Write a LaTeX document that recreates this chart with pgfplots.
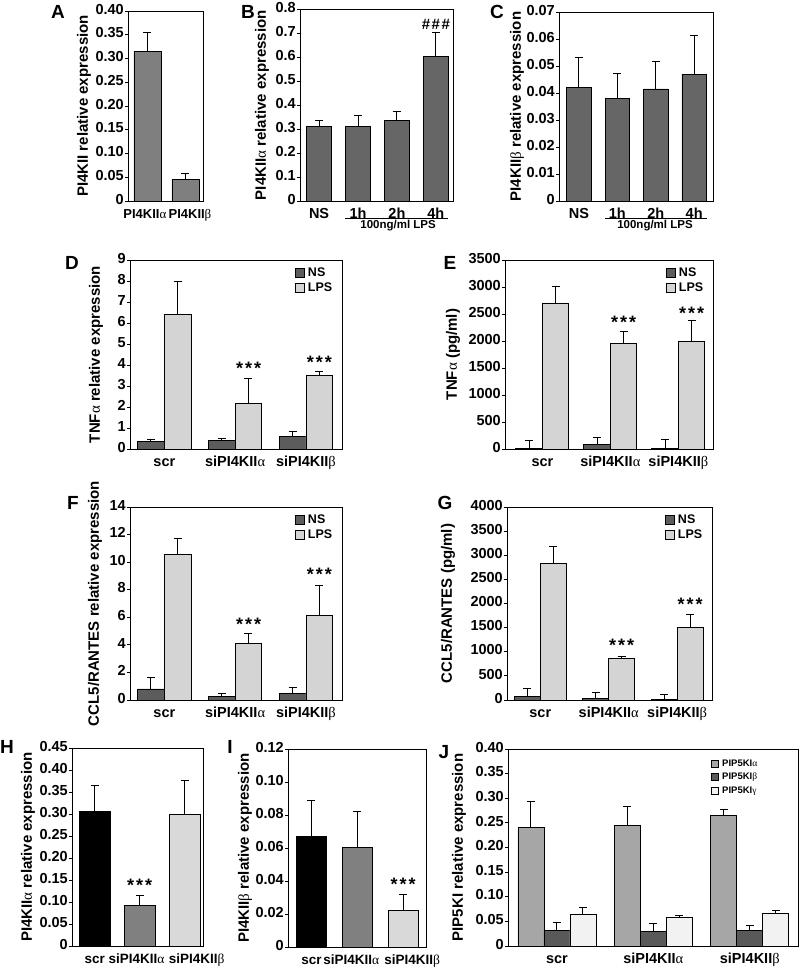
\documentclass[border=0pt]{standalone}
\usepackage{fontspec}
\setmainfont{Liberation Sans}
\newfontfamily\grk{Liberation Serif}
\usepackage{pgfplots}
\pgfplotsset{compat=1.18}
\newcommand\al{{\grk\mdseries α}}
\newcommand\be{{\grk\mdseries β}}
\newcommand\ga{{\grk\mdseries γ}}
\newcommand\lbw{4.5bp}
\definecolor{barA}{HTML}{7F7F7F}
\definecolor{barB}{HTML}{666666}
\definecolor{ns}{HTML}{5C5C5C}
\definecolor{lps}{HTML}{D4D4D4}
\definecolor{hsi}{HTML}{808080}
\definecolor{hsb}{HTML}{D9D9D9}
\definecolor{ja}{HTML}{A6A6A6}
\definecolor{jb}{HTML}{595959}
\definecolor{jg}{HTML}{F2F2F2}
\pgfplotsset{
 panel/.style={
  scale only axis, clip=false, anchor=south west,
  axis line style={black, line width=1bp},
  tick align=outside, ytick pos=left, xtick pos=bottom,
  major tick length=3bp,
  ytick style={black, line width=1bp},
  xtick style={draw=none},
  scaled y ticks=false,
  typeset ticklabels with strut,
  /pgf/number format/assume math mode=true,
  ticklabel style={font=\fontsize{14.5bp}{16bp}\selectfont\bfseries},
  yticklabel style={inner sep=1bp},
  label style={font=\fontsize{15bp}{17bp}\selectfont\bfseries},
  ymin=0, ybar,
 },
 eb/.style={draw=black, line width=0.8bp,
   legend image code/.code={\draw[##1, line width=0.8bp] (0bp,-\lbw) rectangle (2*\lbw,\lbw);},
   error bars/.cd, y dir=plus, y explicit,
   error bar style={black, line width=1bp}, error mark options={rotate=90, black, line width=1bp, mark size=4bp}},
 leg/.style={legend style={draw=none, fill=none, at={(1,1)}, anchor=north east, xshift=-8bp, yshift=-6bp,
   font=\fontsize{12.5bp}{13bp}\selectfont\bfseries, row sep=1.5bp, inner sep=0pt, nodes={inner sep=1.5bp},
   /tikz/every odd column/.style={column sep=2bp}},
   legend cell align=left},
}
\newcommand\stars{\fontsize{18bp}{18bp}\selectfont\bfseries *\kern2bp*\kern2bp*}
\tikzset{let/.style={font=\fontsize{19bp}{19bp}\selectfont\bfseries}}
\begin{document}
\begin{tikzpicture}
\useasboundingbox (0,0) rectangle (800bp,-967bp);
% ---------- A
\begin{axis}[panel, at={(128bp,-201bp)}, width=75bp, height=190bp,
  xmin=-0.51, xmax=1.46, ymax=0.40, bar width=27bp,
  ytick={0,0.05,0.10,0.15,0.20,0.25,0.30,0.35,0.40},
  yticklabels={0,0.05,0.10,0.15,0.20,0.25,0.30,0.35,0.40},
  xtick={0,1}, xticklabels={PI4KII\al\hspace*{5bp},\hspace*{9bp}PI4KII\be},
  xticklabel style={font=\fontsize{13bp}{15bp}\selectfont\bfseries},
  ylabel={PI4KII relative expression},
  ylabel style={at={(axis description cs:-0.587,0.5)}, anchor=center}]
\addplot[fill=barA, eb] coordinates {(0,0.315) +- (0,0.040) (1,0.046) +- (0,0.011)};
\end{axis}
\node[let] at (58bp,-12bp) {A};
% ---------- B
\begin{axis}[panel, at={(300bp,-201bp)}, width=153bp, height=191.5bp,
  xmin=-0.49, xmax=3.44, ymax=0.8, bar width=25bp,
  ytick={0,0.1,0.2,0.3,0.4,0.5,0.6,0.7,0.8},
  yticklabels={0,0.1,0.2,0.3,0.4,0.5,0.6,0.7,0.8},
  xtick={0,1,2,3}, xticklabels={NS,1h,2h,4h},
  ylabel={PI4KII\al\ relative expression},
  ylabel style={at={(axis description cs:-0.248,0.5)}, anchor=center}]
\addplot[fill=barB, eb] coordinates {(0,0.312) +- (0,0.023) (1,0.312) +- (0,0.045) (2,0.336) +- (0,0.036) (3,0.603) +- (0,0.103)};
\draw[line width=1bp] ([yshift=-17.5bp]axis cs:0.67,0) -- ([yshift=-17.5bp]axis cs:3.31,0);
\node[font=\fontsize{11.5bp}{12bp}\selectfont\bfseries] at ([yshift=-25bp]axis cs:2.03,0) {100ng/ml LPS};
\node[font=\fontsize{15bp}{15bp}\selectfont\bfseries] at (axis cs:3,0.738) {\#\kern1.5bp\#\kern1.5bp\#};
\end{axis}
\node[let] at (248bp,-12bp) {B};
% ---------- C
\begin{axis}[panel, at={(559bp,-201bp)}, width=154bp, height=189bp,
  xmin=-0.52, xmax=3.49, ymax=0.07, bar width=24.5bp,
  ytick={0,0.01,0.02,0.03,0.04,0.05,0.06,0.07},
  yticklabels={0,0.01,0.02,0.03,0.04,0.05,0.06,0.07},
  xtick={0,1,2,3}, xticklabels={NS,1h,2h,4h},
  ylabel={PI4KII\be\ relative expression},
  ylabel style={at={(axis description cs:-0.273,0.5)}, anchor=center}]
\addplot[fill=barB, eb] coordinates {(0,0.0420) +- (0,0.0113) (1,0.0381) +- (0,0.0090) (2,0.0415) +- (0,0.0100) (3,0.0469) +- (0,0.0145)};
\draw[line width=1bp] ([yshift=-17.5bp]axis cs:0.68,0) -- ([yshift=-17.5bp]axis cs:3.34,0);
\node[font=\fontsize{11.5bp}{12bp}\selectfont\bfseries] at ([yshift=-25bp]axis cs:1.98,0) {100ng/ml LPS};
\end{axis}
\node[let] at (497bp,-12bp) {C};
% ---------- D
\begin{axis}[panel, leg, at={(130bp,-449bp)}, width=212bp, height=189bp,
  xmin=-0.485, xmax=2.51, ymax=9, bar width=26.7bp, ybar=0pt,
  ytick={0,1,2,3,4,5,6,7,8,9},
  yticklabels={0,1,2,3,4,5,6,7,8,9},
  xtick={0,1,2}, xticklabels={scr,siPI4KII\al,siPI4KII\be},
  ylabel={TNF\al\ relative expression},
  ylabel style={at={(axis description cs:-0.160,0.5)}, anchor=center}]
\addplot[fill=ns, eb] coordinates {(0,0.36) +- (0,0.07) (1,0.40) +- (0,0.12) (2,0.59) +- (0,0.26)};
\addplot[fill=lps, eb] coordinates {(0,6.40) +- (0,1.58) (1,2.19) +- (0,1.17) (2,3.49) +- (0,0.19)};
\legend{NS,LPS}
\node at (axis cs:1.19,3.86) {\stars};
\node at (axis cs:2.19,4.14) {\stars};
\end{axis}
\node[let] at (72bp,-263bp) {D};
% ---------- E
\begin{axis}[panel, leg, at={(505bp,-449bp)}, width=208bp, height=189bp,
  xmin=-0.55, xmax=2.51, ymax=3500, bar width=26.5bp, ybar=0pt,
  ytick={0,500,1000,1500,2000,2500,3000,3500},
  yticklabels={0,500,1000,1500,2000,2500,3000,3500},
  xtick={0,1,2}, xticklabels={scr,siPI4KII\al,siPI4KII\be},
  ylabel={TNF\al\ (pg/ml)},
  ylabel style={at={(axis description cs:-0.25,0.5)}, anchor=center}]
\addplot[fill=ns, eb] coordinates {(0,10) +- (0,145) (1,90) +- (0,130) (2,10) +- (0,170)};
\addplot[fill=lps, eb] coordinates {(0,2705) +- (0,300) (1,1952) +- (0,222) (2,1993) +- (0,383)};
\legend{NS,LPS}
\node at (axis cs:1.195,2339) {\stars};
\node at (axis cs:2.195,2519) {\stars};
\end{axis}
\node[let] at (450bp,-263bp) {E};
% ---------- F
\begin{axis}[panel, leg, at={(130bp,-700bp)}, width=212bp, height=193bp,
  xmin=-0.485, xmax=2.51, ymax=14, bar width=26.7bp, ybar=0pt,
  ytick={0,2,4,6,8,10,12,14},
  yticklabels={0,2,4,6,8,10,12,14},
  xtick={0,1,2}, xticklabels={scr,siPI4KII\al,siPI4KII\be},
  ylabel={CCL5/RANTES relative expression},
  ylabel style={at={(axis description cs:-0.165,0.5)}, anchor=center}]
\addplot[fill=ns, eb] coordinates {(0,0.80) +- (0,0.80) (1,0.24) +- (0,0.26) (2,0.46) +- (0,0.44)};
\addplot[fill=lps, eb] coordinates {(0,10.55) +- (0,1.15) (1,4.13) +- (0,0.67) (2,6.11) +- (0,2.19)};
\legend{NS,LPS}
\node at (axis cs:1.19,5.49) {\stars};
\node at (axis cs:2.19,9.1) {\stars};
\end{axis}
\node[let] at (73bp,-503bp) {F};
% ---------- G
\begin{axis}[panel, leg, at={(507bp,-700bp)}, width=205bp, height=193bp,
  xmin=-0.487, xmax=2.51, ymax=4000, bar width=26bp, ybar=0pt,
  ytick={0,500,1000,1500,2000,2500,3000,3500,4000},
  yticklabels={0,500,1000,1500,2000,2500,3000,3500,4000},
  xtick={0,1,2}, xticklabels={scr,siPI4KII\al,siPI4KII\be},
  ylabel={CCL5/RANTES (pg/ml)},
  ylabel style={at={(axis description cs:-0.288,0.5)}, anchor=center}]
\addplot[fill=ns, eb] coordinates {(0,83) +- (0,160) (1,41) +- (0,110) (2,14) +- (0,110)};
\addplot[fill=lps, eb] coordinates {(0,2835) +- (0,345) (1,857) +- (0,43) (2,1508) +- (0,269)};
\legend{NS,LPS}
\node at (axis cs:1.19,1125) {\stars};
\node at (axis cs:2.19,1990) {\stars};
\end{axis}
\node[let] at (445bp,-503bp) {G};
% ---------- H
\begin{axis}[panel, at={(72bp,-946bp)}, width=131bp, height=198bp,
  xmin=-0.505, xmax=2.41, ymax=0.45, bar width=31bp,
  ytick={0,0.05,0.10,0.15,0.20,0.25,0.30,0.35,0.40,0.45},
  yticklabels={0,0.05,0.10,0.15,0.20,0.25,0.30,0.35,0.40,0.45},
  xtick={0,1,2}, xticklabels={scr,siPI4KII\al\hspace*{6bp},\hspace*{24bp}siPI4KII\be},
  xticklabel style={font=\fontsize{13.5bp}{15bp}\selectfont\bfseries},
  ylabel={PI4KII\al\ relative expression},
  ylabel style={at={(axis description cs:-0.336,0.5)}, anchor=center}]
\addplot[fill=black, bar shift=0pt, eb] coordinates {(0,0.306) +- (0,0.059)};
\addplot[fill=hsi, bar shift=0pt, eb] coordinates {(1,0.0926) +- (0,0.022)};
\addplot[fill=hsb, bar shift=0pt, eb] coordinates {(2,0.299) +- (0,0.077)};
\node at (axis cs:1,0.137) {\stars};
\end{axis}
\node[let] at (7bp,-747bp) {H};
% ---------- I
\begin{axis}[panel, at={(288bp,-947bp)}, width=138bp, height=198bp,
  xmin=-0.51, xmax=2.5, ymax=0.12, bar width=30bp,
  ytick={0,0.02,0.04,0.06,0.08,0.10,0.12},
  yticklabels={0,0.02,0.04,0.06,0.08,0.10,0.12},
  xtick={0,1,2}, xticklabels={scr,siPI4KII\al\hspace*{12bp},\hspace*{18bp}siPI4KII\be},
  xticklabel style={font=\fontsize{13.5bp}{15bp}\selectfont\bfseries},
  ylabel={PI4KII\be\ relative expression},
  ylabel style={at={(axis description cs:-0.312,0.5)}, anchor=center}]
\addplot[fill=black, bar shift=0pt, eb] coordinates {(0,0.0669) +- (0,0.0219)};
\addplot[fill=hsi, bar shift=0pt, eb] coordinates {(1,0.0602) +- (0,0.0220)};
\addplot[fill=hsb, bar shift=0pt, eb] coordinates {(2,0.0219) +- (0,0.0100)};
\node at (axis cs:2,0.0382) {\stars};
\end{axis}
\node[let] at (230bp,-747bp) {I};
% ---------- J
\renewcommand\lbw{3.5bp}
\begin{axis}[panel, leg, at={(508bp,-946bp)}, width=290bp, height=197bp,
  xmin=-0.507, xmax=2.5, ymax=0.40, bar width=26bp, ybar=0pt,
  legend style={font=\fontsize{9.5bp}{11bp}\selectfont\bfseries, xshift=-31bp, yshift=-3bp, row sep=2.5bp},
  ytick={0,0.05,0.10,0.15,0.20,0.25,0.30,0.35,0.40},
  yticklabels={0,0.05,0.10,0.15,0.20,0.25,0.30,0.35,0.40},
  xtick={0,1,2}, xticklabels={scr,siPI4KII\al,siPI4KII\be},
  ylabel={PIP5KI relative expression},
  ylabel style={at={(axis description cs:-0.169,0.5)}, anchor=center}]
\addplot[fill=ja, eb] coordinates {(0,0.241) +- (0,0.053) (1,0.244) +- (0,0.039) (2,0.266) +- (0,0.011)};
\addplot[fill=jb, eb] coordinates {(0,0.031) +- (0,0.017) (1,0.030) +- (0,0.016) (2,0.0325) +- (0,0.0085)};
\addplot[fill=jg, eb] coordinates {(0,0.065) +- (0,0.014) (1,0.058) +- (0,0.004) (2,0.066) +- (0,0.006)};
\legend{PIP5KI\al,PIP5KI\be,PIP5KI\ga}
\end{axis}
\node[let] at (444bp,-752bp) {J};
\end{tikzpicture}
\end{document}
